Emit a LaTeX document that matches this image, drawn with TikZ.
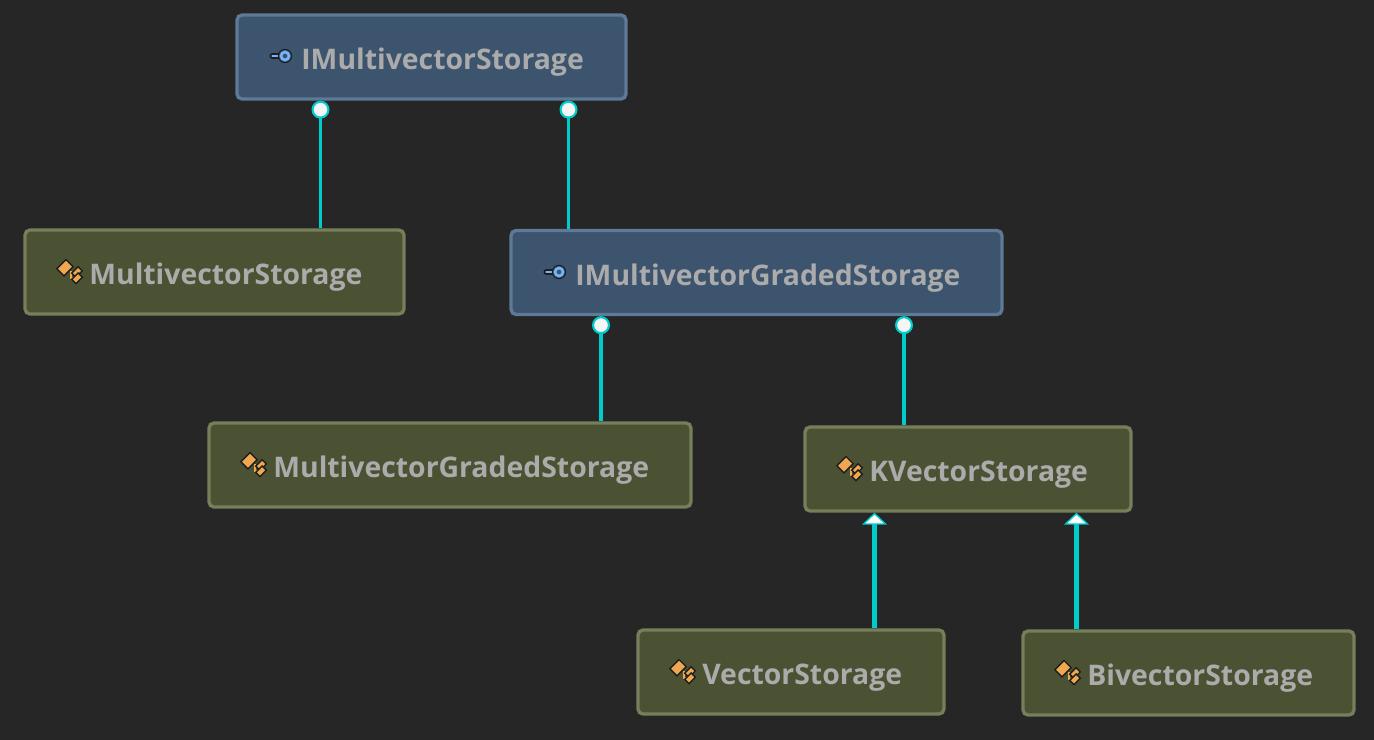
\documentclass[tikz,border=0pt]{standalone}
\usepackage{fontspec}
\setmainfont{Open Sans}
\usetikzlibrary{arrows.meta}
\definecolor{cBack}{HTML}{262626}
\definecolor{cIface}{HTML}{3D546E}
\definecolor{cIfaceEdge}{HTML}{5D7A96}
\definecolor{cClass}{HTML}{4B5233}
\definecolor{cClassEdge}{HTML}{767F5A}
\definecolor{cLabel}{HTML}{ABABAB}
\definecolor{cLink}{HTML}{00CCCC}
\definecolor{cIconBlue}{HTML}{75B5FF}
\definecolor{cIconOrange}{HTML}{F0A850}
\definecolor{cIconDark}{HTML}{1E1E1E}

\begin{document}
\begin{tikzpicture}[
    x=0.02cm, y=-0.02cm,
    bx/.style={rectangle, draw, line width=1.9pt, rounded corners=0.1cm, inner sep=0pt, minimum height=1.68cm},
    iface/.style={bx, fill=cIface, draw=cIfaceEdge},
    cls/.style={bx, fill=cClass, draw=cClassEdge},
    lbl/.style={anchor=base west, inner sep=0pt, text=cLabel, font=\fontsize{16.15}{20}\selectfont\bfseries},
    lolli/.style={{Circle[length=0.36cm, width=0.36cm, fill=white!96!black, line width=1.2pt]}-, draw=cLink, line width=1.8pt},
    inherit/.style={-{Triangle[length=0.24cm, width=0.5cm, fill=white, line width=0.8pt]}, draw=cLink, line width=2.8pt},
    ifaceicon/.pic={
      \draw[cIconDark, line width=3.4pt, line cap=round] (-8.5,0) -- (0,0);
      \draw[cIconBlue, line width=1.5pt, line cap=round] (-8.5,0) -- (0,0);
      \draw[fill=cIface, draw=cIconDark, line width=0.6pt] (4,0) circle (6.6);
      \draw[draw=cIconBlue, fill=cIface, line width=1.5pt] (4,0) circle (4);
    },
    clsicon/.pic={
      \draw[fill=cIconOrange, draw=cIconDark, line width=0.8pt, shift={(-5,-4.3)}, rotate=45] (-6.5,-5) rectangle (6.5,5);
      \draw[cIconOrange, line width=0.9pt] (1,-1) -- (1,6) -- (6,6);
      \draw[fill=cIconOrange, draw=cIconDark, line width=0.8pt, shift={(7,0)}, rotate=45] (-4.5,-3) rectangle (4.5,3);
      \draw[fill=cIconOrange, draw=cIconDark, line width=0.8pt, shift={(7,6.3)}, rotate=45] (-4.5,-3) rectangle (4.5,3);
    }
]
\useasboundingbox[fill=cBack] (0,0) rectangle (1374,740);

\node[iface, minimum width=7.78cm] (ims) at (431.5,57) {};
\node[cls, minimum width=7.58cm] (ms) at (214.5,272) {};
\node[iface, minimum width=9.82cm] (img) at (756.5,272.5) {};
\node[cls, minimum width=9.64cm] (mgs) at (450,465) {};
\node[cls, minimum width=6.52cm] (kvs) at (968,469) {};
\node[cls, minimum width=6.12cm] (vs) at (791,672) {};
\node[cls, minimum width=6.62cm] (bs) at (1188.5,673) {};

\node[lbl] (imsT) at (301,70) {IMultivectorStorage};
\node[lbl] (msT) at (89,284) {MultivectorStorage};
\node[lbl] (imgT) at (575,285) {IMultivectorGradedStorage};
\node[lbl] (mgsT) at (273,477) {MultivectorGradedStorage};
\node[lbl] (kvsT) at (869,481) {KVectorStorage};
\node[lbl] (vsT) at (702,684) {VectorStorage};
\node[lbl] (bsT) at (1087,685) {BivectorStorage};

\foreach \x/\y in {281/56, 555/272} {
  \pic at (\x,\y) {ifaceicon};
}
\foreach \x/\y in {70/272, 254/465, 850/469, 683/672, 1068/673} {
  \pic at (\x,\y) {clsicon};
}

\foreach \a/\b/\x in {ims/ms/320.5, ims/img/568.5, img/mgs/601, img/kvs/904} {
  \draw[lolli] (\x,0 |- \a.south) -- (\x,0 |- \b.north);
}
\foreach \a/\b/\x in {vs/kvs/874.5, bs/kvs/1076.5} {
  \draw[inherit] (\x,0 |- \a.north) -- (\x,0 |- \b.south);
}
\end{tikzpicture}
\end{document}
